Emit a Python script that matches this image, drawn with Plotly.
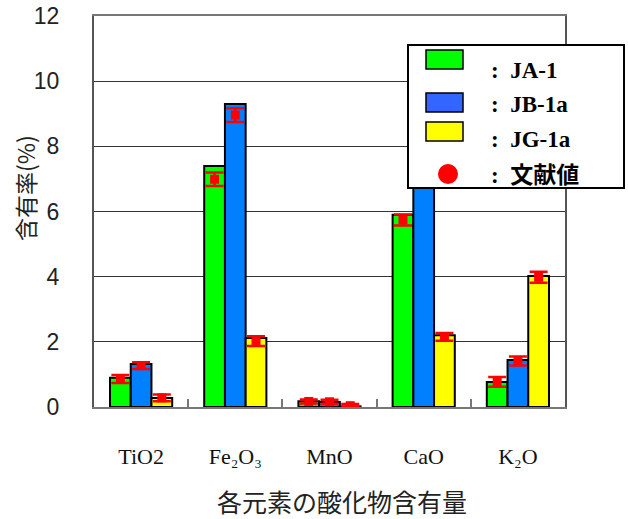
import plotly.graph_objects as go

# ---- data ----
categories = ["TiO2", "Fe₂O₃", "MnO", "CaO", "K₂O"]
series_names = ["JA-1", "JB-1a", "JG-1a"]
ja1 = [0.90, 7.40, 0.18, 5.90, 0.77]
jb1a = [1.32, 9.30, 0.15, 9.30, 1.44]
jg1a = [0.28, 2.12, 0.02, 2.20, 4.02]
lit_ja1 = [0.86, 6.99, 0.17, 5.74, 0.77]
lit_jb1a = [1.27, 8.96, 0.16, 9.31, 1.41]
lit_jg1a = [0.28, 2.02, 0.04, 2.15, 3.98]
err_ja1 = [0.12, 0.21, 0.06, 0.17, 0.15]
err_jb1a = [0.10, 0.21, 0.06, 0.17, 0.14]
err_jg1a = [0.10, 0.15, 0.05, 0.12, 0.17]
y_ticks = [0, 2, 4, 6, 8, 10, 12]

colors = ["#00FF00", "#0080FF", "#FFFF00"]
legend_colors = ["#00FF00", "#3366FF", "#FFFF00"]

# body margin is removed in the page, so figure origin = screenshot origin
W, H = 628, 519
SL, SR, ST, SB = 94, 565, 16, 407


def px(x):
    return (x - SL) / (SR - SL)


def py(y):
    return (SB - y) / (SB - ST)


fig = go.Figure()
for name, vals, col, grp in zip(series_names, [ja1, jb1a, jg1a], colors, ["a", "b", "c"]):
    fig.add_trace(go.Bar(
        x=categories, y=vals, name=name, offsetgroup=grp,
        marker=dict(color=col, line=dict(color="black", width=2)),
        showlegend=False,
    ))
for lit, err, grp in zip([lit_ja1, lit_jb1a, lit_jg1a], [err_ja1, err_jb1a, err_jg1a], ["a", "b", "c"]):
    fig.add_trace(go.Scatter(
        x=categories, y=lit, mode="markers", offsetgroup=grp,
        marker=dict(symbol="square", size=9, color="red"),
        error_y=dict(type="data", array=err, color="red", thickness=2.5, width=9),
        showlegend=False, name="文献値",
    ))

shapes = []
annotations = []
# custom legend box
shapes.append(dict(type="rect", xref="paper", yref="paper",
                   x0=px(408), x1=px(624), y0=py(188), y1=py(45),
                   line=dict(color="black", width=2), fillcolor="white"))
sw_y = [(50, 69), (93, 112), (122, 141)]
txt_y = [70, 104, 139, 175]
for (y0, y1), c in zip(sw_y, legend_colors):
    shapes.append(dict(type="rect", xref="paper", yref="paper",
                       x0=px(426), x1=px(463), y0=py(y1), y1=py(y0),
                       line=dict(color="black", width=1.5), fillcolor=c))
shapes.append(dict(type="circle", xref="paper", yref="paper",
                   x0=px(438), x1=px(458), y0=py(184), y1=py(164),
                   line=dict(color="red", width=0), fillcolor="red"))
labels = series_names + ["文献値"]
for lab, yy in zip(labels, txt_y):
    annotations.append(dict(
        xref="paper", yref="paper", x=px(489), y=py(yy), xanchor="left", yanchor="middle",
        text="<b>:\u00a0\u00a0" + lab + "</b>", showarrow=False,
        font=dict(family="Liberation Serif, Noto Sans CJK JP", size=23, color="black"),
    ))

# axis titles
annotations.append(dict(
    xref="paper", yref="paper", x=px(25), y=py(188), textangle=-90,
    text="含有率(%)", showarrow=False, xanchor="center", yanchor="middle",
    font=dict(family="Noto Sans CJK JP", size=23, color="#222"),
))
annotations.append(dict(
    xref="paper", yref="paper", x=px(342), y=py(501),
    text="各元素の酸化物含有量", showarrow=False, xanchor="center", yanchor="middle",
    font=dict(family="Noto Sans CJK JP", size=25, color="#222"),
))

fig.update_layout(
    width=W, height=H,
    margin=dict(l=SL, r=W - SR, t=ST, b=H - SB, pad=0, autoexpand=False),
    plot_bgcolor="white", paper_bgcolor="white",
    barmode="group", bargap=0.34, bargroupgap=0,
    scattermode="group", scattergap=0.34,
    shapes=shapes, annotations=annotations,
    showlegend=False,
)
fig.update_xaxes(
    type="category", showline=True, linecolor="#777", linewidth=2, mirror=True,
    showgrid=False, ticks="inside", tickson="boundaries", ticklen=8, tickcolor="#777",
    tickwidth=1.5, ticklabelstandoff=29, automargin=False, ticklabeloverflow="allow",
    tickfont=dict(family="Liberation Serif", size=22, color="#111"),
)
fig.update_yaxes(
    range=[0, 12], tickvals=y_ticks, ticktext=[str(v) for v in y_ticks],
    showline=True, linecolor="#555", linewidth=2, mirror=True,
    showgrid=True, gridcolor="#333", gridwidth=1.2, zeroline=False,
    ticks="", ticklabelstandoff=28, automargin=False, ticklabeloverflow="allow",
    tickfont=dict(family="Liberation Sans", size=23, color="#222"),
)

fig.write_html("out.html",
               config={"displayModeBar": False},
               post_script="document.body.style.margin='0';document.body.style.overflow='hidden';")
